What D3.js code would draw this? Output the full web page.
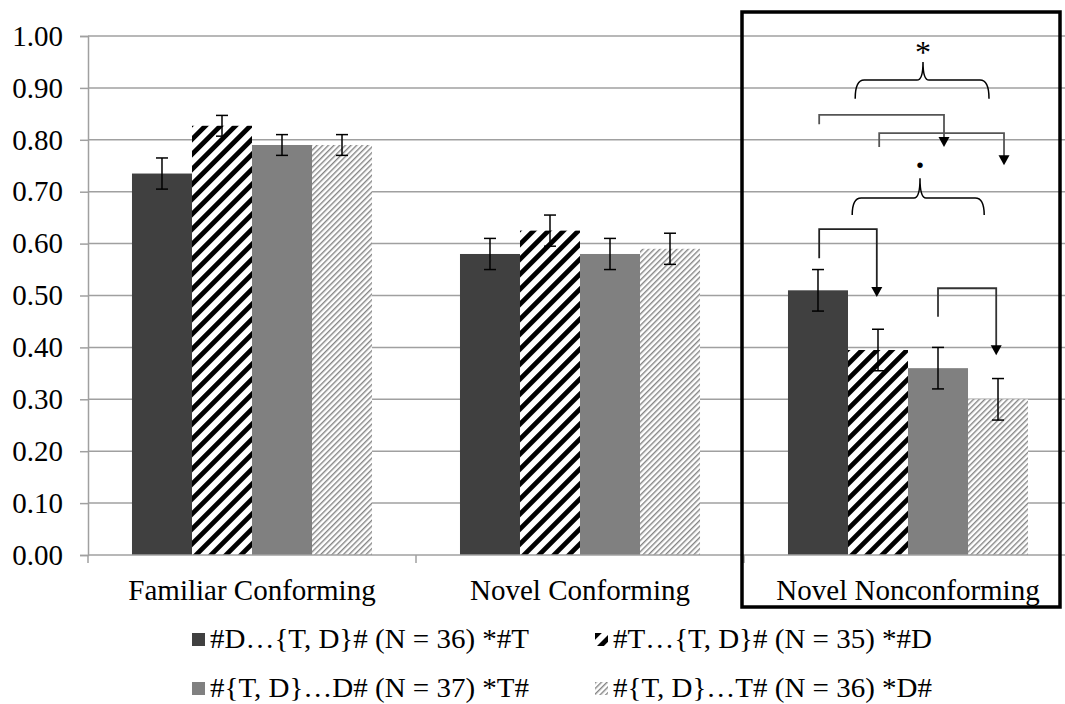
<!DOCTYPE html>
<html>
<head>
<meta charset="utf-8">
<script src="https://cdn.jsdelivr.net/npm/d3@7"></script>
<style>
  body { margin: 0; background: #fff; }
  svg { display: block; font-family: "Liberation Serif", "Times New Roman", serif; }
</style>
</head>
<body>
<svg width="1065" height="704"></svg>
<script>
// data
var categories = ["Familiar Conforming", "Novel Conforming", "Novel Nonconforming"];
var seriesNames = [
  "#D\u2026{T, D}# (N = 36) *#T",
  "#T\u2026{T, D}# (N = 35) *#D",
  "#{T, D}\u2026D# (N = 37) *T#",
  "#{T, D}\u2026T# (N = 36) *D#"
];
var darkVals  = [0.735, 0.58, 0.51];
var stripeVals = [0.827, 0.625, 0.395];
var grayVals  = [0.79, 0.58, 0.36];
var lightVals = [0.79, 0.59, 0.30];
var darkErr   = [0.03, 0.03, 0.04];
var stripeErr = [0.02, 0.03, 0.04];
var grayErr   = [0.02, 0.03, 0.04];
var lightErr  = [0.02, 0.03, 0.04];
var yTicks = [0, 0.1, 0.2, 0.3, 0.4, 0.5, 0.6, 0.7, 0.8, 0.9, 1.0];

// significance marks in the last group (x in bar slots, y in data units)
var braces = [
  { x1: 1.12, x2: 3.35, xm: 2.25, yTop: 0.95, yMid: 0.915, yEnd: 0.879, mark: "*", yMark: 0.98 },
  { x1: 1.07, x2: 3.27, xm: 2.20, yTop: 0.726, yMid: 0.688, yEnd: 0.655, mark: ".", yMark: 0.752 }
];
var arrows = [
  { x1: 0.52, x2: 2.60, yStart: 0.83, yTop: 0.848, yTip: 0.786, color: "#555" },
  { x1: 1.52, x2: 3.60, yStart: 0.786, yTop: 0.813, yTip: 0.751, color: "#555" },
  { x1: 0.52, x2: 1.48, yStart: 0.572, yTop: 0.628, yTip: 0.497, color: "#222" },
  { x1: 2.50, x2: 3.47, yStart: 0.459, yTop: 0.514, yTip: 0.385, color: "#333" }
];

var series = [
  { name: seriesNames[0], vals: darkVals, err: darkErr, fill: "#404040" },
  { name: seriesNames[1], vals: stripeVals, err: stripeErr, fill: "url(#bigStripe)" },
  { name: seriesNames[2], vals: grayVals, err: grayErr, fill: "#808080" },
  { name: seriesNames[3], vals: lightVals, err: lightErr, fill: "url(#smallStripe)" }
];

var svg = d3.select("svg");
var fontSize = 29;

var x = d3.scaleBand()
    .domain(categories)
    .range([88, 1072])
    .paddingInner(0)
    .paddingOuter(0);

var xSub = d3.scaleBand()
    .domain(d3.range(series.length))
    .range([0, x.bandwidth()])
    .paddingInner(0)
    .paddingOuter(0.733);

var y = d3.scaleLinear()
    .domain([0, 1])
    .range([555, 36]);

// patterns for the hatched bars
var defs = svg.append("defs");
var p1 = defs.append("pattern")
    .attr("id", "bigStripe")
    .attr("patternUnits", "userSpaceOnUse")
    .attr("width", 10.6).attr("height", 10.6)
    .attr("patternTransform", "rotate(45)");
p1.append("rect").attr("width", 10.6).attr("height", 10.6).attr("fill", "#fff");
p1.append("rect").attr("width", 4.8).attr("height", 10.6).attr("fill", "#000");

var p2 = defs.append("pattern")
    .attr("id", "smallStripe")
    .attr("patternUnits", "userSpaceOnUse")
    .attr("width", 4).attr("height", 4)
    .attr("patternTransform", "rotate(45)");
p2.append("rect").attr("width", 4).attr("height", 4).attr("fill", "#fff");
p2.append("rect").attr("width", 1.4).attr("height", 4).attr("fill", "#858585");

// gridlines
svg.append("g")
    .selectAll("line")
    .data(yTicks.slice(1))
  .enter().append("line")
    .attr("x1", 88).attr("x2", 1065)
    .attr("y1", function(d) { return y(d); })
    .attr("y2", function(d) { return y(d); })
    .attr("stroke", "#a0a0a0")
    .attr("stroke-width", 1.5);

// y axis
var yAxis = svg.append("g")
    .attr("transform", "translate(88,0)")
    .call(d3.axisLeft(y).tickValues(yTicks).tickSize(8).tickPadding(17)
      .tickFormat(d3.format(".2f")));
yAxis.attr("font-family", null);
yAxis.select(".domain").attr("stroke", "#a0a0a0").attr("stroke-width", 1.5);
yAxis.selectAll(".tick line").attr("stroke", "#a0a0a0").attr("stroke-width", 1.5);
yAxis.selectAll("text")
    .attr("font-size", fontSize)
    .attr("fill", "#000");

// bars
var groups = svg.append("g")
    .selectAll("g")
    .data(categories)
  .enter().append("g")
    .attr("transform", function(d) { return "translate(" + x(d) + ",0)"; });

groups.selectAll("rect")
    .data(function(c, ci) {
      return series.map(function(s, si) { return { si: si, v: s.vals[ci], e: s.err[ci], fill: s.fill }; });
    })
  .enter().append("rect")
    .attr("x", function(d) { return xSub(d.si); })
    .attr("width", xSub.bandwidth())
    .attr("y", function(d) { return y(d.v); })
    .attr("height", function(d) { return y(0) - y(d.v); })
    .attr("fill", function(d) { return d.fill; });

// error bars
var eb = groups.selectAll("g.err")
    .data(function(c, ci) {
      return series.map(function(s, si) { return { si: si, v: s.vals[ci], e: s.err[ci] }; });
    })
  .enter().append("g")
    .attr("class", "err")
    .attr("stroke", "#000")
    .attr("stroke-width", 1.5);
var cx = function(d) { return xSub(d.si) + xSub.bandwidth() / 2; };
eb.append("line")
    .attr("x1", cx).attr("x2", cx)
    .attr("y1", function(d) { return y(d.v + d.e); })
    .attr("y2", function(d) { return y(d.v - d.e); });
[1, -1].forEach(function(sgn) {
  eb.append("line")
      .attr("x1", function(d) { return cx(d) - 6; })
      .attr("x2", function(d) { return cx(d) + 6; })
      .attr("y1", function(d) { return y(d.v + sgn * d.e); })
      .attr("y2", function(d) { return y(d.v + sgn * d.e); });
});

// x axis
var xAxis = svg.append("g");
xAxis.append("line")
    .attr("x1", 88).attr("x2", 1065)
    .attr("y1", y(0)).attr("y2", y(0))
    .attr("stroke", "#a0a0a0").attr("stroke-width", 1.5);
xAxis.selectAll("line.tk")
    .data(categories)
  .enter().append("line")
    .attr("class", "tk")
    .attr("x1", function(d) { return x(d); })
    .attr("x2", function(d) { return x(d); })
    .attr("y1", y(0)).attr("y2", y(0) + 8)
    .attr("stroke", "#a0a0a0").attr("stroke-width", 1.5);
xAxis.selectAll("text")
    .data(categories)
  .enter().append("text")
    .attr("x", function(d) { return x(d) + x.bandwidth() / 2; })
    .attr("y", 600)
    .attr("text-anchor", "middle")
    .attr("font-size", fontSize)
    .text(function(d) { return d; });

// highlight box round the last group
var last = categories[2];
svg.append("rect")
    .attr("x", x(last) - 2)
    .attr("y", 12)
    .attr("width", 318)
    .attr("height", 595)
    .attr("fill", "none")
    .attr("stroke", "#000")
    .attr("stroke-width", 3.5);

// significance annotations
var slot = d3.scaleLinear()
    .domain([0, series.length])
    .range([x(last) + xSub(0), x(last) + xSub(0) + xSub.step() * series.length]);

var ann = svg.append("g");
braces.forEach(function(b) {
  var x1 = slot(b.x1), x2 = slot(b.x2), xm = slot(b.xm);
  var yt = y(b.yTop), ym = y(b.yMid), ye = y(b.yEnd);
  var path = "M" + x1 + "," + ye +
    " Q" + x1 + "," + ym + " " + (x1 + 9) + "," + ym +
    " L" + (xm - 6) + "," + ym +
    " Q" + xm + "," + ym + " " + xm + "," + yt +
    " Q" + xm + "," + ym + " " + (xm + 6) + "," + ym +
    " L" + (x2 - 9) + "," + ym +
    " Q" + x2 + "," + ym + " " + x2 + "," + ye;
  ann.append("path")
      .attr("d", path)
      .attr("fill", "none")
      .attr("stroke", "#000")
      .attr("stroke-width", 1.5);
  ann.append("text")
      .attr("x", xm)
      .attr("y", b.mark === "*" ? y(b.yMark) + 17 : y(b.yMark) + 3)
      .attr("text-anchor", "middle")
      .attr("font-size", b.mark === "*" ? 32 : 34)
      .attr("font-weight", b.mark === "*" ? "normal" : "bold")
      .text(b.mark);
});

arrows.forEach(function(a) {
  var x1 = slot(a.x1), x2 = slot(a.x2);
  var ys = y(a.yStart), yt = y(a.yTop), tip = y(a.yTip);
  ann.append("path")
      .attr("d", "M" + x1 + "," + ys + " L" + x1 + "," + yt + " L" + x2 + "," + yt + " L" + x2 + "," + (tip - 8))
      .attr("fill", "none")
      .attr("stroke", a.color)
      .attr("stroke-width", 1.8);
  ann.append("path")
      .attr("d", "M" + (x2 - 5.5) + "," + (tip - 10) + " L" + (x2 + 5.5) + "," + (tip - 10) + " L" + x2 + "," + tip + "Z")
      .attr("fill", "#000");
});

// legend
var legendPos = [
  { x: 192, y: 633 },
  { x: 595, y: 633 },
  { x: 192, y: 682 },
  { x: 595, y: 682 }
];
var legend = svg.append("g")
    .selectAll("g")
    .data(series)
  .enter().append("g")
    .attr("transform", function(d, i) { return "translate(" + legendPos[i].x + "," + legendPos[i].y + ")"; });
legend.append("rect")
    .attr("width", 13).attr("height", 13)
    .attr("fill", function(d) { return d.fill; });
legend.append("text")
    .attr("transform", "translate(18,15) scale(1,0.92)")
    .attr("font-size", fontSize)
    .text(function(d) { return d.name; });
</script>
</body>
</html>
